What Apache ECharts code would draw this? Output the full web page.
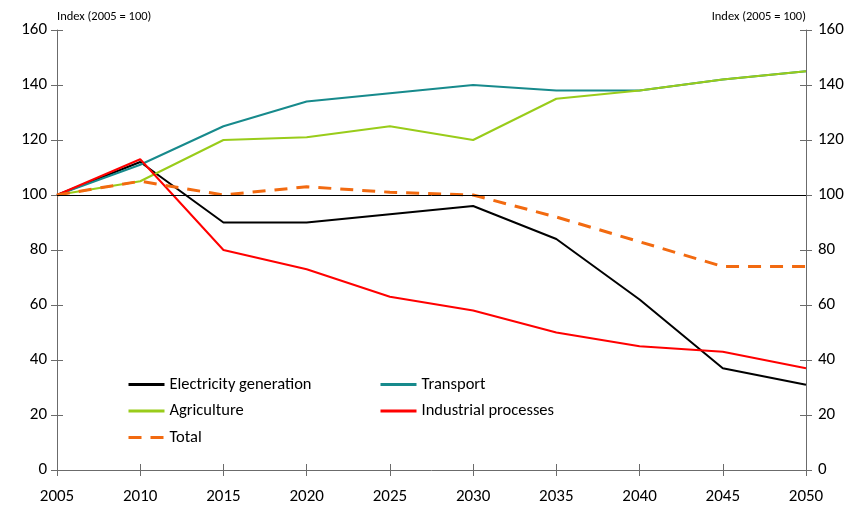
<!DOCTYPE html>
<html><head><meta charset="utf-8">
<script src="https://cdn.jsdelivr.net/npm/echarts@6/dist/echarts.min.js"></script>
<style>html,body{margin:0;padding:0;background:#fff}#c{width:849px;height:511px}</style>
</head><body><div id="c"></div>
<script>
var years = [2005, 2010, 2015, 2020, 2025, 2030, 2035, 2040, 2045, 2050];
var electricity = [100, 112, 90, 90, 93, 96, 84, 62, 37, 31];
var transport = [100, 111, 125, 134, 137, 140, 138, 138, 142, 145];
var agriculture = [100, 105, 120, 121, 125, 120, 135, 138, 142, 145];
var industrial = [100, 113, 80, 73, 63, 58, 50, 45, 43, 37];
var total = [100, 105, 100, 103, 101, 100, 92, 83, 74, 74];
var axisName = 'Index (2005 = 100)';

var FONT = "Carlito, 'Open Sans', 'Noto Sans', sans-serif";
function pairs(v){ return years.map(function(y,i){ return [y, v[i]]; }); }
var axisColor = '#6b6b6b';
function yAx(pos, inside, showLabel){
  return {
    type:'value', position:pos, min:0, max:160, interval:20,
    name: showLabel ? axisName : '', nameLocation:'end', nameGap: 7,
    nameTextStyle:{fontFamily:FONT, fontSize:12.5, color:'#000', align: pos==='left'?'left':'right'},
    axisLine:{show:!inside, lineStyle:{color:axisColor, width:1}},
    axisTick:{show:true, inside:inside, length:6, lineStyle:{color:axisColor}},
    axisLabel:{show:showLabel, fontFamily:FONT, fontSize:17, color:'#000', margin:pos==='left'?10:12},
    splitLine:{show:false}
  };
}
function xAx(inside, showLabel){
  return {
    type:'value', position:'bottom', min:2005, max:2050, interval:5,
    axisLine:{show:!inside, onZero:false, lineStyle:{color:axisColor, width:1}},
    axisTick:{show:true, inside:inside, length:6, lineStyle:{color:axisColor}},
    axisLabel:{show:showLabel, fontFamily:FONT, fontSize:17, color:'#000', margin:18, formatter:function(v){return String(v);}},
    splitLine:{show:false}
  };
}
function line(name, data, color, dashed){
  return {
    name:name, type:'line', data:pairs(data), symbol:'none', xAxisIndex:0, yAxisIndex:0,
    lineStyle:{color:color, width: dashed?3:2, type: dashed?[13,9]:'solid'},
    itemStyle:{color:color}, z: dashed?3:2, animation:false
  };
}
var series = [
  line('Electricity generation', electricity, '#000000'),
  line('Transport', transport, '#178a8c'),
  line('Agriculture', agriculture, '#99cc1a'),
  line('Total', total, '#f26a10', true),
  line('Industrial processes', industrial, '#ff0000')
];
series[0].markLine = {silent:true, symbol:'none', label:{show:false}, animation:false,
  lineStyle:{color:'#000', width:1, type:'solid'}, data:[{yAxis:100}]};

var legendBase = {orient:'vertical', itemWidth:36, itemHeight:14, itemGap:9.5,
  itemStyle:{opacity:0}, lineStyle:{width:3},
  textStyle:{fontFamily:FONT, fontSize:16.5, color:'#000'}};
var chart = echarts.init(document.getElementById('c'), null, {renderer:'canvas'});
chart.setOption({
  animation:false,
  backgroundColor:'#fff',
  grid:{left:57, right:43, top:30, bottom:41},
  xAxis:[xAx(false,true), xAx(true,false)],
  yAxis:[yAx('left',false,true), yAx('left',true,false), yAx('right',false,true), yAx('right',true,false)],
  legend:[
    Object.assign({}, legendBase, {left:122, top:371, data:['Electricity generation','Agriculture','Total']}),
    Object.assign({}, legendBase, {left:374, top:371, data:['Transport','Industrial processes']})
  ],
  series:series
});
</script></body></html>
